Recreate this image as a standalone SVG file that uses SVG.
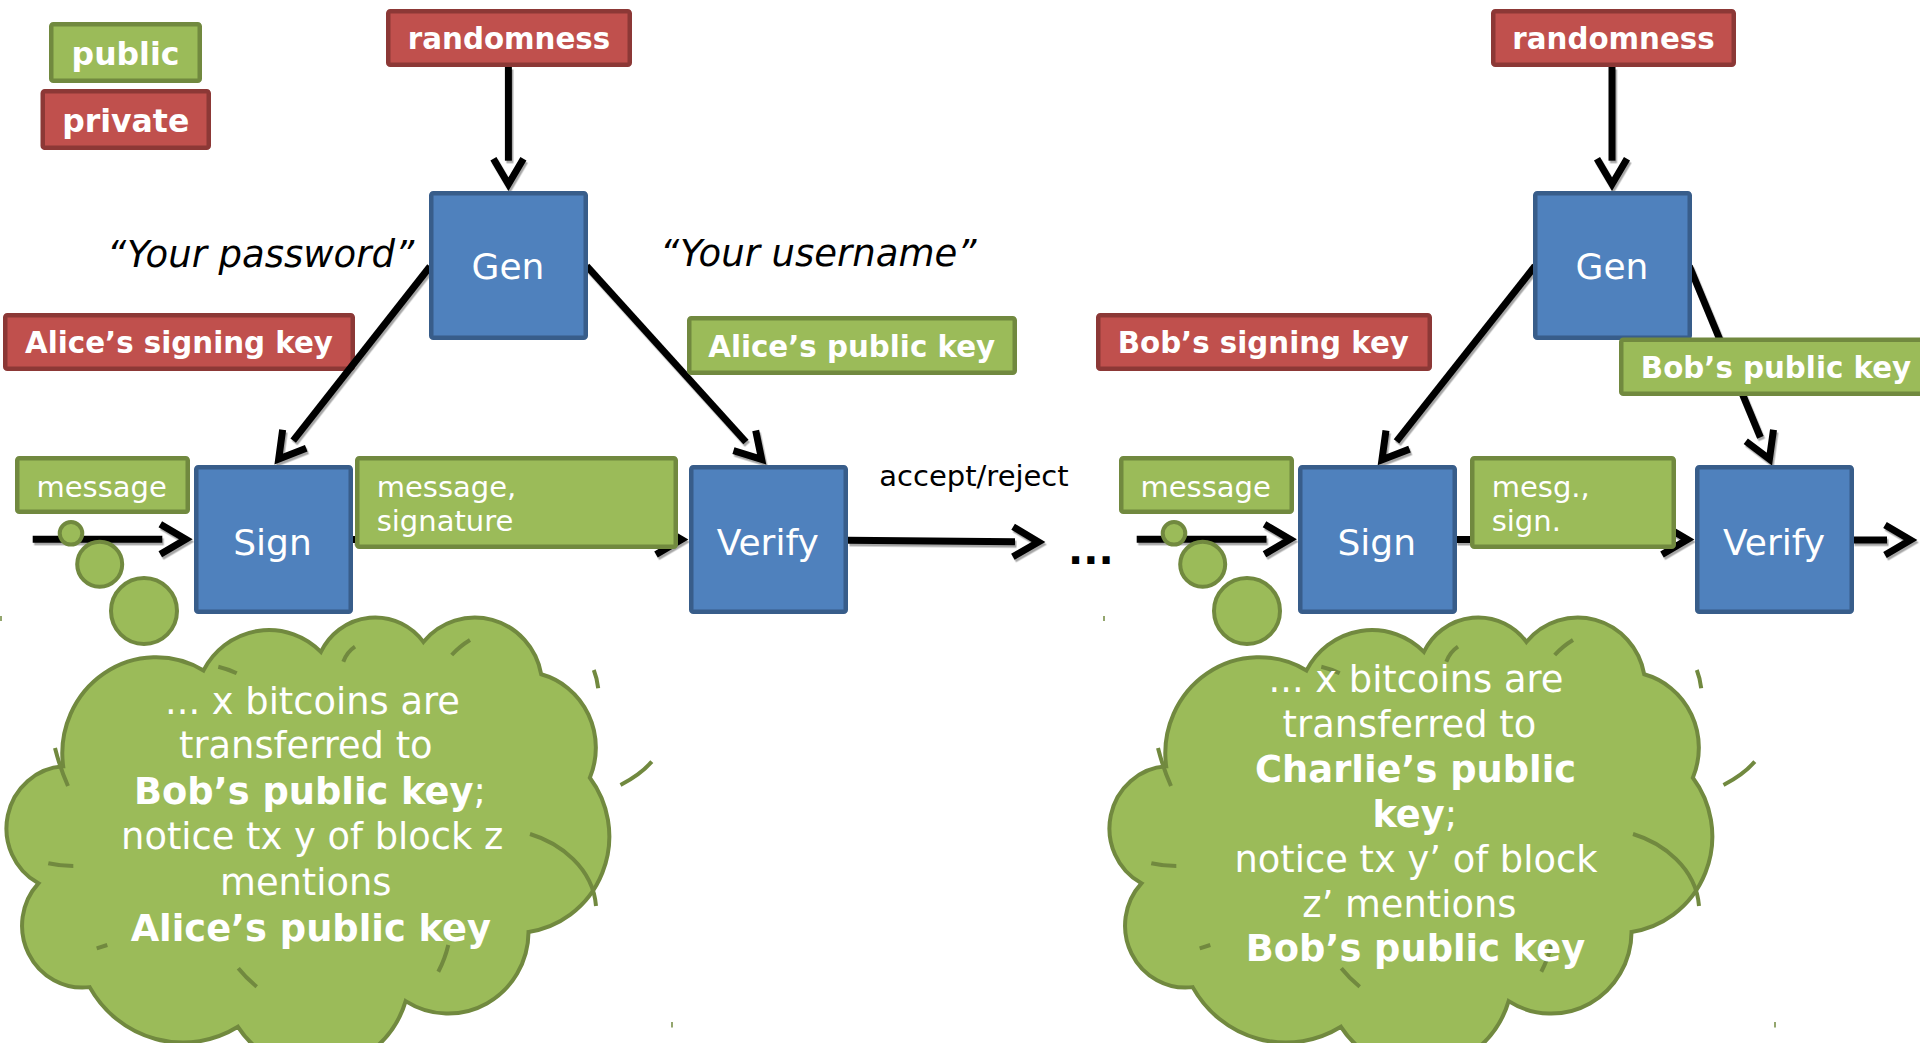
<svg xmlns="http://www.w3.org/2000/svg" xmlns:xlink="http://www.w3.org/1999/xlink" width="1920" height="1043" viewBox="0 0 1920 1043">
  <style>
    .blue { fill: #4f81bd; stroke: #385d8a; stroke-width: 4.5; }
    .red { fill: #c0504d; stroke: #8c3836; stroke-width: 4.5; }
    .green { fill: #9bbb59; stroke: #71893f; stroke-width: 4.5; }
    .cloud { fill: #9bbb59; stroke: #71893f; stroke-width: 4; }
    .arc { fill: none; stroke: #71893f; stroke-width: 4; }
    .tick { fill: none; stroke: #71893f; stroke-width: 1.5; }
    .wire { fill: none; stroke: #000; stroke-width: 7; marker-end: url(#chev); }
    text { font-family: "DejaVu Sans", "Liberation Sans", sans-serif; }
    .w { fill: #fff; }
    .k { fill: #000; }
    .tag { font-size: 29.3px; font-weight: bold; }
    .legend { font-size: 31.5px; font-weight: bold; }
    .data { font-size: 29px; }
    .op { font-size: 36px; }
    .quote { font-size: 37px; font-style: italic; }
    .thought { font-size: 36.8px; text-anchor: middle; }
    .b { font-weight: bold; }
    .mid { text-anchor: middle; }
  </style>
  <defs>
    <marker id="chev" markerUnits="userSpaceOnUse" viewBox="-10 -25 50 50" markerWidth="50" markerHeight="50" refX="0" refY="0" orient="auto" overflow="visible">
      <path d="M -2 -15 L 23.5 0 L -2 15" fill="none" stroke="#000" stroke-width="7"/>
    </marker>
    <filter id="shadow" filterUnits="userSpaceOnUse" x="0" y="0" width="1920" height="1043">
      <feDropShadow dx="1.5" dy="2.5" stdDeviation="0.7" flood-color="#000" flood-opacity="0.35"/>
    </filter>
    <!-- thought cloud: outline, inner arcs and the trail of bubbles -->
    <g id="cloud-shape">
      <g transform="translate(9,616) scale(0.0138889,0.010463)">
        <path class="cloud" vector-effect="non-scaling-stroke" d="M 3900 14370 A 6753 9190 0 0 1 14005 5202 A 5333 7267 0 0 1 22456 3428 A 4365 5945 0 0 1 29834 2476 A 4857 6595 0 0 1 38320 5570 A 5333 7273 0 0 1 41821 15454 A 6775 9220 0 0 1 37407 30197 A 5785 7867 0 0 1 28558 36807 A 6752 9215 0 0 1 16484 39262 A 7720 10543 0 0 1 5808 35469 A 4360 5918 0 0 1 2116 25549 A 4345 5945 0 0 1 3900 14370 Z"/>
      </g>
      <path class="arc" d="M 218.3 666.7 Q 228 669 236.7 673.3"/>
      <path class="arc" d="M 343.3 661.7 Q 347 652 355 646.7"/>
      <path class="arc" d="M 451.7 655 Q 460 646 470 640"/>
      <path class="arc" d="M 48.3 863.3 Q 60 866 73.3 866"/>
      <path class="arc" d="M 96.7 948.3 L 107.3 945"/>
      <path class="arc" d="M 238.3 968.3 Q 246 978 256.7 986.7"/>
      <path class="arc" d="M 448.3 945 Q 445 959 438.3 971.7"/>
      <path class="arc" d="M 530 834 C 560 843 593 868 596 906"/>
      <path class="arc" d="M 593.8 670 Q 597 678 598.2 688.3"/>
      <path class="arc" d="M 620.5 785 Q 640 775 651.8 761.7"/>
      <path class="arc" d="M 55 748 Q 60 768 68 786"/>
      <circle class="cloud" cx="144" cy="611" r="33"/>
      <circle class="cloud" cx="99.7" cy="564.3" r="22.5"/>
      <circle class="cloud" cx="71" cy="533.3" r="11.3"/>
      <path class="tick" d="M 1 616 V 621 M 672 1022 V 1027.5"/>
    </g>
  </defs>

  <rect width="1920" height="1043" fill="#fff"/>

  <!-- legend -->
  <g id="legend-public">
    <rect class="green" x="51.25" y="24.25" width="148.5" height="56.5" rx="2"/>
    <text class="w legend mid" x="125.5" y="65">public</text>
  </g>
  <g id="legend-private">
    <rect class="red" x="42.75" y="91.25" width="166" height="56.5" rx="2"/>
    <text class="w legend mid" x="125.75" y="131.7">private</text>
  </g>

  <!-- signing keys sit beneath the wires -->
  <g id="alice-signing-key">
    <rect class="red" x="5.25" y="315.25" width="347.5" height="53.5" rx="2"/>
    <text class="w tag mid" x="179" y="352.7">Alice’s signing key</text>
  </g>
  <g id="bob-signing-key">
    <rect class="red" x="1098.25" y="315.25" width="331.5" height="53.5" rx="2"/>
    <text class="w tag mid" x="1263.3" y="352.7">Bob’s signing key</text>
  </g>

  <!-- wires -->
  <g id="connectors" filter="url(#shadow)">
    <path class="wire" d="M 508.4 67 L 508.4 160.7"/>
    <path class="wire" d="M 430 266.5 L 293.2 440.6"/>
    <path class="wire" d="M 586.7 266 L 745.9 442"/>
    <path class="wire" d="M 32.7 539.3 L 162.3 539.3"/>
    <path class="wire" d="M 353 539.5 L 658 539.5"/>
    <path class="wire" d="M 848 540.3 L 1015 541.8"/>
    <path class="wire" d="M 1612 67 L 1612 160.7"/>
    <path class="wire" d="M 1535 266 L 1396.5 441.4"/>
    <path class="wire" d="M 1689.3 266 L 1760.4 437.4"/>
    <path class="wire" d="M 1136.7 539.3 L 1266.5 539.3"/>
    <path class="wire" d="M 1456 539.5 L 1664 539.5"/>
    <path class="wire" d="M 1853 540 L 1887 540"/>
  </g>

  <!-- first round: Alice signs -->
  <g id="randomness-1">
    <rect class="red" x="388.25" y="11.25" width="241.5" height="53.5" rx="2"/>
    <text class="w tag mid" x="509" y="49.3">randomness</text>
  </g>
  <g id="gen-1">
    <rect class="blue" x="431.25" y="193.25" width="154.5" height="144.5" rx="2"/>
    <text class="w op mid" x="508" y="279.3">Gen</text>
  </g>
  <text class="k quote" x="107" y="266.7">“Your password”</text>
  <text class="k quote" x="660" y="266">“Your username”</text>
  <g id="alice-public-key">
    <rect class="green" x="689.25" y="318.25" width="325.5" height="54.5" rx="2"/>
    <text class="w tag mid" x="851.7" y="357.3">Alice’s public key</text>
  </g>
  <g id="message-1">
    <rect class="green" x="17.25" y="458.25" width="170.5" height="53.5" rx="2"/>
    <text class="w data mid" x="101.7" y="496.7">message</text>
  </g>
  <g id="sign-1">
    <rect class="blue" x="196.25" y="467.25" width="154.5" height="144.5" rx="2"/>
    <text class="w op mid" x="272.5" y="555">Sign</text>
  </g>
  <g id="message-signature-1">
    <rect class="green" x="357.25" y="458.25" width="318.5" height="88.5" rx="2"/>
    <text class="w data" x="376.7" y="496.7">message,</text>
    <text class="w data" x="376.7" y="531">signature</text>
  </g>
  <g id="verify-1">
    <rect class="blue" x="691.25" y="467.25" width="154.5" height="144.5" rx="2"/>
    <text class="w op mid" x="767.7" y="555">Verify</text>
  </g>
  <text class="k data" x="879.3" y="486">accept/reject</text>
  <text class="k b" x="1068" y="564" font-size="40">...</text>

  <!-- second round: Bob signs -->
  <g id="randomness-2">
    <rect class="red" x="1493.25" y="11.25" width="240.5" height="53.5" rx="2"/>
    <text class="w tag mid" x="1613.5" y="49.3">randomness</text>
  </g>
  <g id="gen-2">
    <rect class="blue" x="1535.25" y="193.25" width="154.5" height="144.5" rx="2"/>
    <text class="w op mid" x="1612" y="279.3">Gen</text>
  </g>
  <g id="bob-public-key">
    <rect class="green" x="1621.25" y="339.75" width="311.5" height="54" rx="2"/>
    <text class="w tag mid" x="1776" y="377.7">Bob’s public key</text>
  </g>
  <g id="message-2">
    <rect class="green" x="1121.25" y="458.25" width="170.5" height="53.5" rx="2"/>
    <text class="w data mid" x="1205.7" y="496.7">message</text>
  </g>
  <g id="sign-2">
    <rect class="blue" x="1300.25" y="467.25" width="154.5" height="144.5" rx="2"/>
    <text class="w op mid" x="1376.7" y="555">Sign</text>
  </g>
  <g id="message-signature-2">
    <rect class="green" x="1472.25" y="458.25" width="201.5" height="88.5" rx="2"/>
    <text class="w data" x="1491.7" y="496.7">mesg.,</text>
    <text class="w data" x="1491.7" y="531">sign.</text>
  </g>
  <g id="verify-2">
    <rect class="blue" x="1697.25" y="467.25" width="154.5" height="144.5" rx="2"/>
    <text class="w op mid" x="1774" y="555">Verify</text>
  </g>

  <!-- thought clouds -->
  <g id="thought-1">
    <use xlink:href="#cloud-shape" href="#cloud-shape"/>
    <text class="w thought" x="312.5" y="714">... x bitcoins are</text>
    <text class="w thought" x="305.8" y="758.3">transferred to</text>
    <text class="w thought" x="310" y="804.3"><tspan class="b">Bob’s public key</tspan>;</text>
    <text class="w thought" x="312.2" y="849.3">notice tx y of block z</text>
    <text class="w thought" x="305.8" y="895">mentions</text>
    <text class="w thought b" x="310.8" y="940.7">Alice’s public key</text>
  </g>
  <g id="thought-2">
    <use xlink:href="#cloud-shape" href="#cloud-shape" transform="translate(1103,0)"/>
    <text class="w thought" x="1416" y="691.7">... x bitcoins are</text>
    <text class="w thought" x="1409.4" y="737.3">transferred to</text>
    <text class="w thought b" x="1415.6" y="782.3">Charlie’s public</text>
    <text class="w thought" x="1414.8" y="826.7"><tspan class="b">key</tspan>;</text>
    <text class="w thought" x="1416" y="871.7">notice tx y’ of block</text>
    <text class="w thought" x="1409.4" y="916.7">z’ mentions</text>
    <text class="w thought b" x="1415.5" y="961">Bob’s public key</text>
  </g>
</svg>
